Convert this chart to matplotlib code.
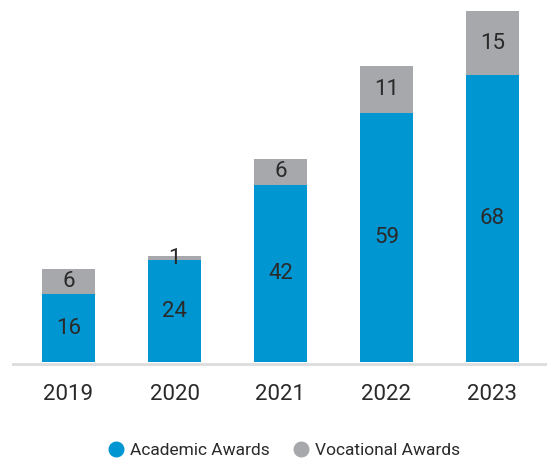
import matplotlib
matplotlib.use("Agg")
import matplotlib.pyplot as plt
from matplotlib.lines import Line2D

years = ["2019", "2020", "2021", "2022", "2023"]
academic = [16, 24, 42, 59, 68]
vocational = [6, 1, 6, 11, 15]

blue = "#0096D2"
gray = "#A7A8AB"
txt = "#2a2a2a"

plt.rcParams['font.family'] = ['Roboto', 'DejaVu Sans']

W, H = 547, 459
fig = plt.figure(figsize=(W/100, H/100), dpi=100)
ax = fig.add_axes([12/W, (H-366)/H, (547-12)/W, (366-3)/H])
x = list(range(len(years)))
ax.bar(x, academic, width=0.5, color=blue, zorder=2)
ax.bar(x, vocational, width=0.5, bottom=academic, color=gray, zorder=2)
for i in x:
    ax.text(i, academic[i]/2, str(academic[i]), ha='center', va='center',
            fontsize=16, color=txt, zorder=3)
    ax.text(i, academic[i] + vocational[i]/2, str(vocational[i]), ha='center',
            va='center', fontsize=16, color=txt, zorder=3)
ax.set_xlim(-0.5335, 4.515)
ax.set_ylim(-1, 85)
ax.axhline(-0.45, color="#dcdcdc", lw=2, zorder=1)
for s in ax.spines.values():
    s.set_visible(False)
ax.set_yticks([])
ax.set_xticks(x)
ax.set_xticklabels(years, fontsize=16, color=txt)
ax.tick_params(axis='x', length=0, pad=13)

handles = [Line2D([], [], marker='o', ls='', markersize=10.5, color=blue, label="Academic Awards"),
           Line2D([], [], marker='o', ls='', markersize=10.5, color=gray, label="Vocational Awards")]
fig.legend(handles=handles, loc='center', bbox_to_anchor=(284/W, (H-450)/H), ncol=2,
           frameon=False, fontsize=12.5, labelcolor=txt, handletextpad=0.3,
           columnspacing=1.3, handlelength=1.0)
fig.savefig("out.png", dpi=100)
